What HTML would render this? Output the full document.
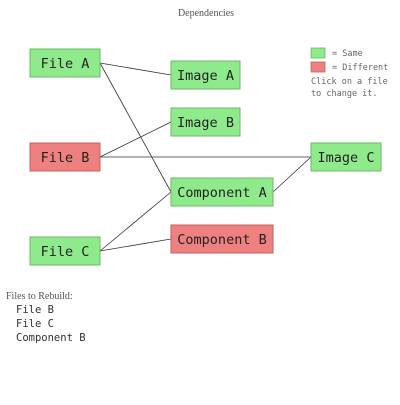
<!DOCTYPE html>
<html><head><style>
body{margin:0;background:#fff;width:400px;height:400px;overflow:hidden}
</style></head><body>
<svg width="400" height="400" xmlns="http://www.w3.org/2000/svg">
<text x="206" y="16" text-anchor="middle" font-family="Liberation Serif, serif" font-size="10" fill="#555">Dependencies</text>
<g stroke="#333" stroke-width="0.8">
<line x1="100" y1="63" x2="171" y2="75"/>
<line x1="100" y1="63" x2="171" y2="192"/>
<line x1="100" y1="157" x2="171" y2="122"/>
<line x1="100" y1="157" x2="311" y2="157"/>
<line x1="273" y1="192" x2="311" y2="157"/>
<line x1="100" y1="251" x2="171" y2="192"/>
<line x1="100" y1="251" x2="171" y2="239"/>
</g>
<g font-family="DejaVu Sans Mono, monospace" font-size="13.5" fill="#222" text-anchor="middle" stroke-width="1">
<rect x="30" y="49" width="70" height="28" fill="#8fea8c" stroke="#6cb86a"/><text x="65" y="68">File A</text>
<rect x="171" y="61" width="69" height="28" fill="#8fea8c" stroke="#6cb86a"/><text x="205.5" y="80">Image A</text>
<rect x="171" y="108" width="69" height="28" fill="#8fea8c" stroke="#6cb86a"/><text x="205.5" y="127">Image B</text>
<rect x="30" y="143" width="70" height="28" fill="#ef8080" stroke="#c06262"/><text x="65" y="162">File B</text>
<rect x="311" y="143" width="70" height="28" fill="#8fea8c" stroke="#6cb86a"/><text x="346" y="162">Image C</text>
<rect x="171" y="178" width="102" height="28" fill="#8fea8c" stroke="#6cb86a"/><text x="222" y="197">Component A</text>
<rect x="171" y="225" width="102" height="28" fill="#ef8080" stroke="#c06262"/><text x="222" y="244">Component B</text>
<rect x="30" y="237" width="70" height="28" fill="#8fea8c" stroke="#6cb86a"/><text x="65" y="256">File C</text>
</g>
<rect x="311" y="48" width="14" height="10" fill="#8fea8c" stroke="#6cb86a" stroke-width="0.8"/>
<rect x="311" y="62" width="14" height="10" fill="#ef8080" stroke="#c06262" stroke-width="0.8"/>
<g font-family="DejaVu Sans Mono, monospace" font-size="8.5" fill="#666">
<text x="332" y="56">= Same</text>
<text x="332" y="70">= Different</text>
<text x="311" y="84">Click on a file</text>
<text x="311" y="96">to change it.</text>
</g>
<text x="6" y="299" font-family="Liberation Serif, serif" font-size="10" fill="#555">Files to Rebuild:</text>
<g font-family="DejaVu Sans Mono, monospace" font-size="10.5" fill="#333">
<text x="16" y="313">File B</text>
<text x="16" y="327">File C</text>
<text x="16" y="341">Component B</text>
</g>
</svg>
</body></html>
